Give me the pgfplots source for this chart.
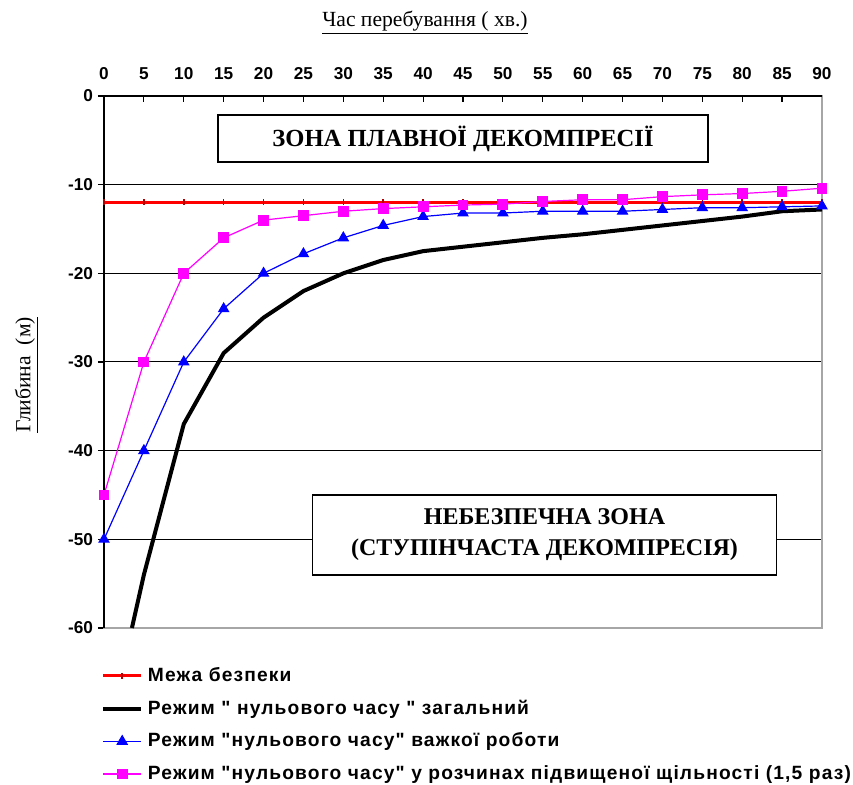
\documentclass[border=0pt]{standalone}
\usepackage{fontspec}
\setmainfont{Liberation Serif}
\newfontfamily\legendsans[LetterSpace=6]{Liberation Sans}
\newfontfamily\ticksans{Liberation Sans}
\usepackage{pgfplots}
\pgfplotsset{compat=1.18}
\definecolor{pinkm}{RGB}{255,0,255}

\begin{document}
\begin{tikzpicture}
\useasboundingbox (0,0) rectangle (426.5pt,392.5pt);
\begin{axis}[
  at={(52pt,78.5pt)}, anchor=south west,
  scale only axis, width=359pt, height=266pt,
  xmin=0, xmax=90, ymin=-60, ymax=0,
  xtick={0,5,...,90}, ytick={-60,-50,...,0},
  xtick pos=right, ytick pos=left,
  tick align=inside,
  major tick length=3pt,
  ytick style={xshift=-3pt},
  tick style={black, line width=0.6pt},
  xticklabel pos=right,
  ymajorgrids, major grid style={black, line width=0.5pt},
  axis line style={gray!70, line width=0.6pt},
  /pgf/number format/assume math mode=true,
  ticklabel style={font=\ticksans\bfseries\fontsize{8.6}{10}\selectfont},
  xticklabel style={yshift=4.5pt},
  yticklabel style={xshift=-2pt},
  clip=false,
  legend style={at={(-0.0125,-0.058)}, anchor=north west, draw=none, fill=none,
    font=\legendsans\bfseries\fontsize{9.6}{11}\selectfont, row sep=3.8pt,
    column sep=2.5pt, nodes={inner xsep=0pt}},
  legend cell align=left,
  legend image code/.code={
    \draw[mark repeat=2,mark phase=2,#1] plot coordinates {(0cm,0cm) (0.33cm,0cm) (0.66cm,0cm)};},
]
% safety limit
\addplot[red, line width=1.5pt, mark=|, mark size=1.5pt, mark options={line width=0.8pt, red!70!black}]
  coordinates {(0,-12) (5,-12) (10,-12) (15,-12) (20,-12) (25,-12) (30,-12) (35,-12) (40,-12)
  (45,-12) (50,-12) (55,-12) (60,-12) (65,-12) (70,-12) (75,-12) (80,-12) (85,-12) (90,-12)};
\addlegendentry{Межа безпеки}
% general no-decompression limit
\addplot[black, line width=2pt]
  coordinates {(3.5,-60) (5,-54) (10,-37) (15,-29) (20,-25) (25,-22) (30,-20) (35,-18.5)
  (40,-17.5) (45,-17) (50,-16.5) (55,-16) (60,-15.6) (65,-15.1) (70,-14.6) (75,-14.1)
  (80,-13.6) (85,-13) (90,-12.8)};
\addlegendentry{Режим " нульового часу " загальний}
% heavy work
\addplot[blue, line width=0.6pt, mark=triangle*, mark size=2.8pt]
  coordinates {(0,-50) (5,-40) (10,-30) (15,-24) (20,-20) (25,-17.8) (30,-16) (35,-14.6)
  (40,-13.6) (45,-13.2) (50,-13.2) (55,-13) (60,-13) (65,-13) (70,-12.8) (75,-12.6)
  (80,-12.6) (85,-12.5) (90,-12.4)};
\addlegendentry{Режим "нульового часу" важкої роботи}
% high-density mixtures
\addplot[pinkm, line width=0.6pt, mark=square*, mark size=2.4pt]
  coordinates {(0,-45) (5,-30) (10,-20) (15,-16) (20,-14) (25,-13.5) (30,-13) (35,-12.7)
  (40,-12.5) (45,-12.3) (50,-12.2) (55,-11.9) (60,-11.7) (65,-11.7) (70,-11.35) (75,-11.15)
  (80,-11) (85,-10.75) (90,-10.4)};
\addlegendentry{Режим "нульового часу" у розчинах підвищеної щільності (1,5 раз)}
% black axis lines on top and left
\draw[black, line width=0.8pt] (axis description cs:0,0) -- (axis description cs:0,1) -- (axis description cs:1,1);
\end{axis}

\node[font=\fontsize{10.8}{12}\selectfont] at (212.5pt,381pt) {\underline{Час перебування ( хв.)}};
\node[font=\fontsize{10.8}{12}\selectfont, rotate=90] at (13.5pt,205pt) {\underline{Глибина~~(м)}};

\node[draw, fill=white, line width=0.8pt, minimum width=245pt, minimum height=23.5pt,
  font=\bfseries\fontsize{12.3}{14}\selectfont] at (231.5pt,323.25pt) {ЗОНА ПЛАВНОЇ ДЕКОМПРЕСІЇ};
\node[draw, fill=white, line width=0.8pt, minimum width=232pt, minimum height=40pt, align=center,
  font=\bfseries\fontsize{12}{15.5}\selectfont] at (272.25pt,125pt) {НЕБЕЗПЕЧНА ЗОНА\\(СТУПІНЧАСТА ДЕКОМПРЕСІЯ)};
\end{tikzpicture}
\end{document}
